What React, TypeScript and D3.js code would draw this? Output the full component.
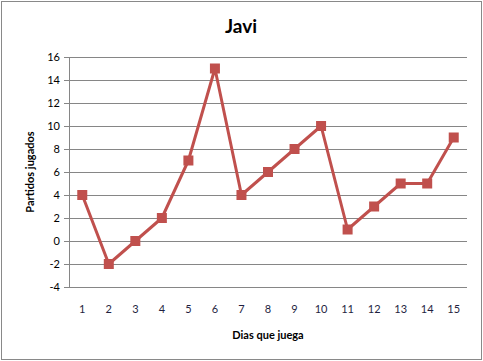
import React from "react";
import * as d3 from "d3";

const days = [1, 2, 3, 4, 5, 6, 7, 8, 9, 10, 11, 12, 13, 14, 15];
const partidos = [4, -2, 0, 2, 7, 15, 4, 6, 8, 10, 1, 3, 5, 5, 9];
const yTicks = [-4, -2, 0, 2, 4, 6, 8, 10, 12, 14, 16];

const W = 483, H = 361;
const left = 69, right = 467, top = 57, bottom = 287;
const font = "Lato, 'Open Sans', sans-serif";

export default function App() {
  const x = d3.scaleBand<number>().domain(days).range([left, right]);
  const y = d3.scaleLinear().domain([-4, 16]).range([bottom, top]);
  const line = d3
    .line<number>()
    .x((_, i) => x(days[i])! + x.bandwidth() / 2)
    .y((d) => y(d));
  return (
    <svg width={W} height={H} style={{ position: "absolute", left: 0, top: 0 }}>
      <rect x={0} y={0} width={W} height={H} fill="#fff" />
      <rect x={1.5} y={1.5} width={W - 3} height={H - 3} fill="none" stroke="#898989" strokeWidth={1} />
      <text x={241} y={33} textAnchor="middle" fontFamily={font} fontWeight="bold" fontSize={19}>Javi</text>
      {yTicks.map((t) => (
        <g key={t}>
          <line x1={left} x2={right} y1={Math.round(y(t)) + 0.5} y2={Math.round(y(t)) + 0.5} stroke="#868686" />
          <line x1={left - 5} x2={left} y1={Math.round(y(t)) + 0.5} y2={Math.round(y(t)) + 0.5} stroke="#868686" />
          <text x={left - 9} y={y(t) + 4} textAnchor="end" fontFamily={font} fontSize={11} fill="#000">{t}</text>
        </g>
      ))}
      <line x1={left + 0.5} x2={left + 0.5} y1={top} y2={bottom} stroke="#868686" />
      {days.map((d) => (
        <text key={d} x={x(d)! + x.bandwidth() / 2} y={313} textAnchor="middle" fontFamily={font} fontSize={11} fill="#1f1f3f">{d}</text>
      ))}
      <text x={268} y={339} textAnchor="middle" fontFamily={font} fontWeight="bold" fontSize={11}>Dias que juega</text>
      <text transform={`translate(34,172) rotate(-90)`} textAnchor="middle" fontFamily={font} fontWeight="bold" fontSize={11}>Partidos jugados</text>
      <path d={line(partidos)!} fill="none" stroke="#C0504D" strokeWidth={3} strokeLinejoin="round" />
      {partidos.map((v, i) => (
        <rect key={i} x={x(days[i])! + x.bandwidth() / 2 - 5} y={y(v) - 5} width={10} height={10} fill="#C0504D" />
      ))}
    </svg>
  );
}
